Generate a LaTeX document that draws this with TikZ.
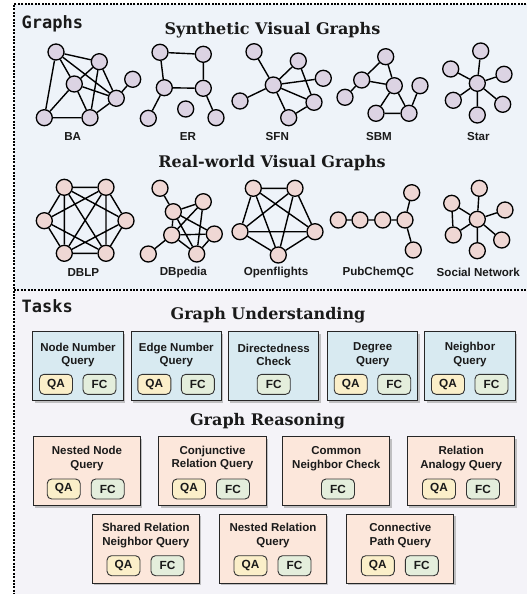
\documentclass[tikz,border=0pt]{standalone}
\usepackage{fontspec}
\usetikzlibrary{shadows}
\newfontfamily\ttlfont{DejaVu Serif}
\newfontfamily\hdfont{DejaVu Sans Mono}
\newfontfamily\lsfont{Liberation Sans}
\definecolor{gbg}{HTML}{EEF3F9}
\definecolor{tbg}{HTML}{F4F3F8}
\definecolor{synfill}{HTML}{DCD3E3}
\definecolor{realfill}{HTML}{EFD7D4}
\definecolor{ufill}{HTML}{D8EAF1}
\definecolor{rfill}{HTML}{FCE7DB}
\definecolor{qafill}{HTML}{FBEFC9}
\definecolor{fcfill}{HTML}{E4EEDC}
\definecolor{txt}{HTML}{1A1A1A}
\begin{document}
\begin{tikzpicture}[x=1pt,y=-1pt,
  panel/.style={line width=1.3pt, dash pattern=on 2pt off 1.4pt},
  sn/.style={circle, draw=black, line width=1.3pt, fill=synfill, minimum size=16pt, inner sep=0pt},
  rn/.style={circle, draw=black, line width=1.3pt, fill=realfill, minimum size=16pt, inner sep=0pt},
  ed/.style={line width=1.4pt, black},
  glab/.style={font=\lsfont\bfseries\fontsize{11.6}{13}\selectfont, text=txt},
  ttl/.style={font=\ttlfont\bfseries\fontsize{16}{18}\selectfont, text=txt},
  hd/.style={font=\hdfont\bfseries\fontsize{17}{19}\selectfont, text=txt, anchor=west, inner sep=0pt},
  tbox/.style={draw=black!85, line width=1pt, minimum height=69pt,
     drop shadow={opacity=0.45, shadow xshift=1.8pt, shadow yshift=-1.8pt}},
  ubox/.style={tbox, fill=ufill, minimum width=90.5pt},
  rbox/.style={tbox, fill=rfill, minimum width=107.3pt},
  btxt/.style={font=\lsfont\bfseries\fontsize{11.5}{13.6}\selectfont, text=txt, align=center, inner sep=0pt},
  pill/.style={draw=black!80, line width=0.9pt, rounded corners=4.5pt, minimum width=33pt, minimum height=20pt,
     inner sep=0pt, font=\lsfont\bfseries\fontsize{11.8}{13}\selectfont, text=txt},
  qa/.style={pill, fill=qafill},
  fc/.style={pill, fill=fcfill}
]
\useasboundingbox (0,0) rectangle (527,594);
\clip (0,0) rectangle (527,594);
% panels
\fill[gbg] (14,4) rectangle (540,290);
\fill[tbg] (14,290) rectangle (540,600);
\draw[panel] (540,4) -- (14,4) -- (14,600);
\draw[panel] (14,290) -- (540,290);
\node[hd] (ghd) at (21.5,23.5) {Graphs};
\node[hd] (thd) at (21.5,306.5) {Tasks};

% ---------------- Synthetic ----------------
\node[ttl] (synt) at (272.5,30) {Synthetic Visual Graphs};

% BA
\node[sn] (a1) at (56,52) {};
\node[sn] (a2) at (99.3,61.7) {};
\node[sn] (a3) at (74.3,84) {};
\node[sn] (a4) at (132.7,79.3) {};
\node[sn] (a5) at (116.3,98.3) {};
\node[sn] (a6) at (44.3,117.7) {};
\node[sn] (a7) at (90,117.7) {};
\draw[ed] (a1)--(a2) (a1)--(a3) (a1)--(a5) (a1)--(a6) (a2)--(a3) (a2)--(a5) (a2)--(a7)
  (a3)--(a6) (a3)--(a5) (a3)--(a7) (a6)--(a7) (a7)--(a5) (a5)--(a4);
\node[glab] (lba) at (72.7,136.7) {BA};

% ER
\node[sn] (e1) at (160,52.3) {};
\node[sn] (e2) at (203.3,54.3) {};
\node[sn] (e3) at (164.3,87.7) {};
\node[sn] (e4) at (203.3,88.3) {};
\node[sn] (e5) at (148.3,118.3) {};
\node[sn] (e6) at (185.7,109) {};
\node[sn] (e7) at (216,117.7) {};
\draw[ed] (e1)--(e2) (e1)--(e3) (e2)--(e4) (e3)--(e4) (e3)--(e5) (e4)--(e7);
\node[glab] (ler) at (188,136.7) {ER};

% SFN
\node[sn] (s1) at (254,51.7) {};
\node[sn] (s2) at (298.3,61) {};
\node[sn] (s3) at (273.3,85) {};
\node[sn] (s4) at (323.3,78.3) {};
\node[sn] (s5) at (240,101) {};
\node[sn] (s6) at (314,102.3) {};
\node[sn] (s7) at (288.7,117.7) {};
\draw[ed] (s1)--(s3) (s3)--(s2) (s3)--(s4) (s3)--(s5) (s3)--(s6) (s3)--(s7) (s2)--(s6) (s6)--(s7);
\node[glab] (lsfn) at (277.3,136.7) {SFN};

% SBM
\node[sn] (b1) at (385.7,56.7) {};
\node[sn] (b2) at (361.7,80) {};
\node[sn] (b3) at (394.3,85.7) {};
\node[sn] (b4) at (420,85.7) {};
\node[sn] (b5) at (345,97.3) {};
\node[sn] (b6) at (376,113.3) {};
\node[sn] (b7) at (409,113.3) {};
\draw[ed] (b1)--(b2) (b1)--(b3) (b2)--(b3) (b2)--(b5) (b3)--(b6) (b3)--(b7) (b6)--(b7) (b7)--(b4);
\node[glab] (lsbm) at (379,136.7) {SBM};

% Star
\node[sn] (t0) at (477.3,83.3) {};
\node[sn] (t1) at (480.7,51) {};
\node[sn] (t2) at (450.7,69) {};
\node[sn] (t3) at (504,74.3) {};
\node[sn] (t4) at (453.3,100.3) {};
\node[sn] (t5) at (502.7,104.3) {};
\node[sn] (t6) at (477.3,115) {};
\draw[ed] (t0)--(t1) (t0)--(t2) (t0)--(t3) (t0)--(t4) (t0)--(t5) (t0)--(t6);
\node[glab] (lstar) at (478.3,136.7) {Star};

% ---------------- Real-world ----------------
\node[ttl] (realt) at (272,163.5) {Real-world Visual Graphs};

% DBLP
\node[rn] (d1) at (64.3,187.3) {};
\node[rn] (d2) at (106,187.3) {};
\node[rn] (d3) at (44.3,220.7) {};
\node[rn] (d4) at (126,220.7) {};
\node[rn] (d5) at (64.3,253.3) {};
\node[rn] (d6) at (106,253.3) {};
\draw[ed] (d1)--(d2) (d2)--(d4) (d4)--(d6) (d6)--(d5) (d5)--(d3) (d3)--(d1)
  (d1)--(d5) (d2)--(d6) (d1)--(d6) (d2)--(d5) (d3)--(d2) (d3)--(d6) (d4)--(d1) (d4)--(d5);
\node[glab] (ldblp) at (83.3,272.7) {DBLP};

% DBpedia
\node[rn] (p1) at (160,188.3) {};
\node[rn] (p2) at (203.3,201.7) {};
\node[rn] (p3) at (173.3,211.7) {};
\node[rn] (p4) at (214.3,234) {};
\node[rn] (p5) at (171.7,235) {};
\node[rn] (p6) at (148.3,254) {};
\node[rn] (p7) at (196.7,254) {};
\draw[ed] (p1)--(p3) (p3)--(p2) (p3)--(p5) (p3)--(p4) (p3)--(p7) (p2)--(p5) (p2)--(p7)
  (p5)--(p4) (p5)--(p7) (p5)--(p6) (p4)--(p7);
\node[glab] (ldbp) at (183.3,272.7) {DBpedia};

% Openflights
\node[rn] (o1) at (253.3,188.3) {};
\node[rn] (o2) at (295,188.3) {};
\node[rn] (o3) at (240,231.7) {};
\node[rn] (o4) at (315,231.7) {};
\node[rn] (o5) at (278.3,255) {};
\draw[ed] (o1)--(o2) (o1)--(o3) (o1)--(o4) (o1)--(o5) (o2)--(o3) (o2)--(o4) (o2)--(o5)
  (o3)--(o4) (o3)--(o5) (o4)--(o5);
\node[glab] (lof) at (276,272.7) {Openflights};

% PubChemQC
\node[rn] (c1) at (338.3,220) {};
\node[rn] (c2) at (360,220) {};
\node[rn] (c3) at (382.7,220) {};
\node[rn] (c4) at (405,220) {};
\node[rn] (c5) at (411.7,192.7) {};
\node[rn] (c6) at (413.3,250) {};
\draw[ed] (c1)--(c2) (c2)--(c3) (c3)--(c4) (c4)--(c5) (c4)--(c6);
\node[glab] (lpc) at (378.3,272.7) {PubChemQC};

% Social Network
\node[rn] (w0) at (477.3,219.3) {};
\node[rn] (w1) at (479.3,188.3) {};
\node[rn] (w2) at (451.7,203.3) {};
\node[rn] (w3) at (505,210) {};
\node[rn] (w4) at (453.3,235) {};
\node[rn] (w5) at (501.7,240) {};
\node[rn] (w6) at (477.3,250.7) {};
\draw[ed] (w0)--(w1) (w0)--(w2) (w0)--(w3) (w0)--(w4) (w0)--(w5) (w0)--(w6) (w2)--(w4);
\node[glab] (lsn) at (478.3,272.7) {Social Network};

% ---------------- Tasks ----------------
\node[ttl] (gut) at (268,315.5) {Graph Understanding};

\node[ubox] (u1) at (78,366.2) {};
\node[btxt] (u1t) at (78,355) {Node Number\\Query};
\node[qa] (u1q) at (56,384.3) {QA};
\node[fc] (u1f) at (99.5,384.3) {FC};

\node[ubox] (u2) at (176.3,366.2) {};
\node[btxt] (u2t) at (176.3,355) {Edge Number\\Query};
\node[qa] (u2q) at (154.3,384.3) {QA};
\node[fc] (u2f) at (197.8,384.3) {FC};

\node[ubox] (u3) at (273.7,366.2) {};
\node[btxt] (u3t) at (273.7,355) {Directedness\\Check};
\node[fc] (u3f) at (273.7,384.3) {FC};

\node[ubox] (u4) at (372.7,366.2) {};
\node[btxt] (u4t) at (372.7,355) {Degree\\Query};
\node[qa] (u4q) at (350.7,384.3) {QA};
\node[fc] (u4f) at (394.2,384.3) {FC};

\node[ubox] (u5) at (470,366.2) {};
\node[btxt] (u5t) at (470,354.3) {Neighbor\\Query};
\node[qa] (u5q) at (448,384.3) {QA};
\node[fc] (u5f) at (491.5,384.3) {FC};

\node[ttl] (grt) at (267.5,421.5) {Graph Reasoning};

\node[rbox] (r1) at (87,471.2) {};
\node[btxt] (r1t) at (87,458.7) {Nested Node\\Query};
\node[qa] (r1q) at (63.7,489) {QA};
\node[fc] (r1f) at (107.7,489) {FC};

\node[rbox] (r2) at (212.5,471.2) {};
\node[btxt] (r2t) at (212.5,458.2) {Conjunctive\\Relation Query};
\node[qa] (r2q) at (189,489) {QA};
\node[fc] (r2f) at (233,489) {FC};

\node[rbox] (r3) at (336.3,471.2) {};
\node[btxt] (r3t) at (336.3,458.7) {Common\\Neighbor Check};
\node[fc] (r3f) at (338,489) {FC};

\node[rbox] (r4) at (461.2,471.2) {};
\node[btxt] (r4t) at (461.2,458.7) {Relation\\Analogy Query};
\node[qa] (r4q) at (439,489) {QA};
\node[fc] (r4f) at (483,489) {FC};

\node[rbox] (s21) at (145.8,548.7) {};
\node[btxt] (s21t) at (145.8,535.8) {Shared Relation\\Neighbor Query};
\node[qa] (s21q) at (123.5,565.7) {QA};
\node[fc] (s21f) at (167.5,565.7) {FC};

\node[rbox] (s22) at (273,548.7) {};
\node[btxt] (s22t) at (273,535.8) {Nested Relation\\Query};
\node[qa] (s22q) at (250.5,565.7) {QA};
\node[fc] (s22f) at (294.5,565.7) {FC};

\node[rbox] (s23) at (400.3,548.7) {};
\node[btxt] (s23t) at (400.3,535.8) {Connective\\Path Query};
\node[qa] (s23q) at (377.8,565.7) {QA};
\node[fc] (s23f) at (421.8,565.7) {FC};
\end{tikzpicture}
\end{document}
